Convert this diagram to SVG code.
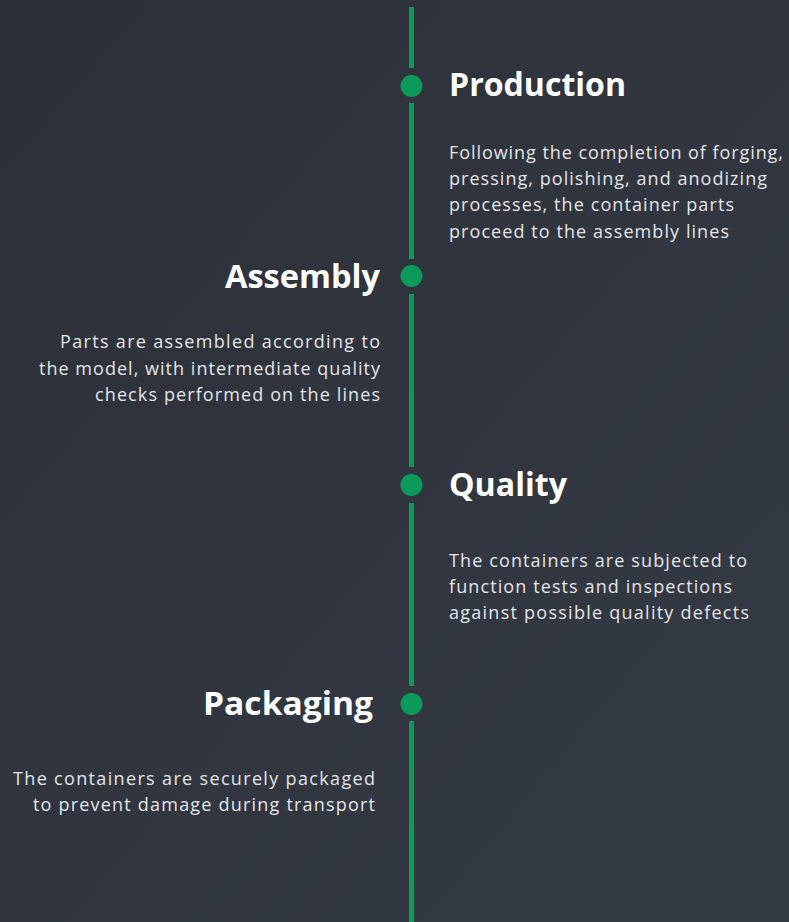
<svg xmlns="http://www.w3.org/2000/svg" width="789" height="922" viewBox="0 0 789 922">
  <defs>
    <linearGradient id="bg" x1="0" y1="0" x2="1" y2="1">
      <stop offset="0" stop-color="#2b2f38"/>
      <stop offset="1" stop-color="#353b45"/>
    </linearGradient>
  </defs>
  <style>
    .seg { stroke: #0b9a59; stroke-width: 5; fill: none; }
    .dot { fill: #0b9a59; }
    .title { font-family: "Open Sans", "Noto Sans", sans-serif; font-weight: 700; font-size: 32px; fill: #ffffff; }
    .body { font-family: "Open Sans", "Noto Sans", sans-serif; font-size: 18px; fill: #e4e5e8; }
    .r { text-anchor: end; }
  </style>
  <rect x="0" y="0" width="789" height="922" fill="url(#bg)"/>
  <g id="connectors">
    <line class="seg" x1="411.5" y1="7" x2="411.5" y2="68"/>
    <line class="seg" x1="411.5" y1="103" x2="411.5" y2="259"/>
    <line class="seg" x1="411.5" y1="294" x2="411.5" y2="467"/>
    <line class="seg" x1="411.5" y1="503" x2="411.5" y2="686"/>
    <line class="seg" x1="411.5" y1="721" x2="411.5" y2="922"/>
  </g>
  <g id="production">
    <circle class="dot" cx="411.5" cy="86" r="11"/>
    <text class="title" x="449" y="96" textLength="177" lengthAdjust="spacingAndGlyphs">Production</text>
    <text class="body" x="449" y="159" textLength="334" lengthAdjust="spacing">Following the completion of forging,</text>
    <text class="body" x="449" y="185" textLength="318" lengthAdjust="spacing">pressing, polishing, and anodizing</text>
    <text class="body" x="449" y="211" textLength="285" lengthAdjust="spacing">processes, the container parts</text>
    <text class="body" x="449" y="238" textLength="280" lengthAdjust="spacing">proceed to the assembly lines</text>
  </g>
  <g id="assembly">
    <circle class="dot" cx="411.5" cy="276" r="11"/>
    <text class="title r" x="380" y="288" textLength="155" lengthAdjust="spacingAndGlyphs">Assembly</text>
    <text class="body r" x="380" y="348" textLength="320" lengthAdjust="spacing">Parts are assembled according to</text>
    <text class="body r" x="380" y="375" textLength="341" lengthAdjust="spacing">the model, with intermediate quality</text>
    <text class="body r" x="380" y="401" textLength="285" lengthAdjust="spacing">checks performed on the lines</text>
  </g>
  <g id="quality">
    <circle class="dot" cx="411.5" cy="485" r="11"/>
    <text class="title" x="449" y="496" textLength="118" lengthAdjust="spacingAndGlyphs">Quality</text>
    <text class="body" x="449" y="567" textLength="298" lengthAdjust="spacing">The containers are subjected to</text>
    <text class="body" x="449" y="593" textLength="283" lengthAdjust="spacing">function tests and inspections</text>
    <text class="body" x="449" y="619" textLength="300" lengthAdjust="spacing">against possible quality defects</text>
  </g>
  <g id="packaging">
    <circle class="dot" cx="411.5" cy="704" r="11"/>
    <text class="title r" x="373" y="715" textLength="170" lengthAdjust="spacingAndGlyphs">Packaging</text>
    <text class="body r" x="375" y="785" textLength="362" lengthAdjust="spacing">The containers are securely packaged</text>
    <text class="body r" x="375" y="811" textLength="342" lengthAdjust="spacing">to prevent damage during transport</text>
  </g>
</svg>
